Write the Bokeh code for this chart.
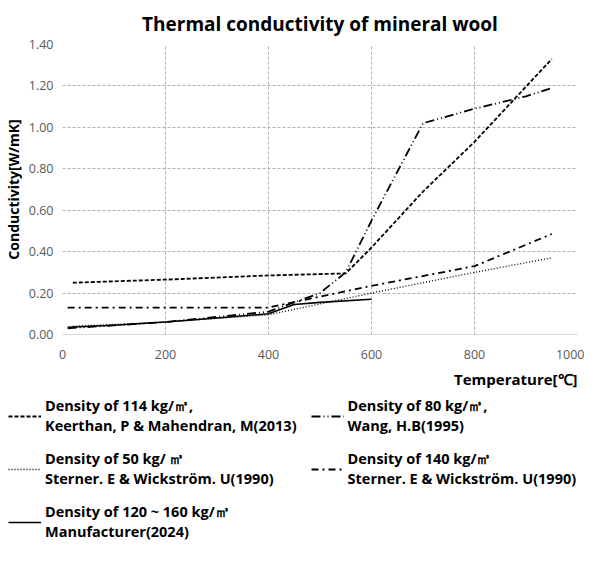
from bokeh.plotting import figure
from bokeh.layouts import column
from bokeh.models import Range1d, Legend, LegendItem, FixedTicker, NumeralTickFormatter, Title
from bokeh.embed import file_html
from bokeh.resources import INLINE

# Density of 114 kg/m3 (Keerthan & Mahendran 2013)
t_114 = [20, 200, 400, 550, 600, 700, 800, 950]
k_114 = [0.25, 0.265, 0.285, 0.295, 0.42, 0.69, 0.93, 1.33]
# Density of 80 kg/m3 (Wang 1995)
t_80 = [10, 200, 400, 500, 550, 600, 700, 800, 900, 950]
k_80 = [0.03, 0.06, 0.11, 0.20, 0.30, 0.55, 1.02, 1.09, 1.15, 1.19]
# Density of 50 kg/m3 (Sterner & Wickstrom 1990)
t_50 = [20, 200, 400, 600, 800, 950]
k_50 = [0.04, 0.06, 0.095, 0.20, 0.30, 0.37]
# Density of 140 kg/m3 (Sterner & Wickstrom 1990)
t_140 = [10, 400, 600, 800, 950]
k_140 = [0.13, 0.13, 0.235, 0.33, 0.485]
# Density of 120~160 kg/m3 (Manufacturer 2024)
t_mf = [10, 100, 200, 300, 400, 450, 500, 600]
k_mf = [0.035, 0.045, 0.06, 0.08, 0.10, 0.145, 0.155, 0.17]

x_ticks = [0, 200, 400, 600, 800, 1000]
y_ticks = [0.0, 0.2, 0.4, 0.6, 0.8, 1.0, 1.2, 1.4]

labels = [
    "Density of 114 kg/\u33a5,\nKeerthan, P & Mahendran, M(2013)",
    "Density of 80 kg/\u33a5,\nWang, H.B(1995)",
    "Density of 50 kg/ \u33a5\nSterner. E & Wickstr\u00f6m. U(1990)",
    "Density of 140 kg/\u33a5\nSterner. E & Wickstr\u00f6m. U(1990)",
    "Density of 120 ~ 160 kg/\u33a5\nManufacturer(2024)",
]

styles = [
    dict(line_width=1.8, line_dash="4 2"),
    dict(line_width=1.8, line_dash="9 3 1 3 1 3"),
    dict(line_width=1.3, line_dash="1 2"),
    dict(line_width=1.8, line_dash="7 4 2 4"),
    dict(line_width=1.6, line_dash="solid"),
]
series = [(t_114, k_114), (t_80, k_80), (t_50, k_50), (t_140, k_140), (t_mf, k_mf)]

FONT = "Open Sans"

p = figure(width=584, height=396, output_backend="svg", toolbar_location=None,
           x_range=Range1d(0, 1000), y_range=Range1d(0, 1.4),
           min_border_left=56, min_border_right=7, min_border_top=40,
           min_border_bottom=62)
p.frame_align = False

p.title.text = "Thermal conductivity of mineral wool"
p.title.align = "center"
p.title.text_font = FONT
p.title.text_font_size = "19px"
p.title.text_font_style = "bold"
p.title.text_color = "black"
p.title.standoff = 16

p.outline_line_color = None
p.background_fill_color = "white"

for (tx, ky), st in zip(series, styles):
    p.line(tx, ky, line_color="black", **st)

for ax in (p.xaxis[0], p.yaxis[0]):
    ax.major_tick_line_color = None
    ax.minor_tick_line_color = None
    ax.major_tick_out = 0
    ax.major_tick_in = 0
    ax.major_label_text_font = FONT
    ax.major_label_text_font_size = "12.5px"
    ax.major_label_text_color = "#595959"
    ax.axis_label_text_font = FONT
    ax.axis_label_text_font_style = "bold"
    ax.axis_label_text_color = "black"

p.xaxis.ticker = FixedTicker(ticks=x_ticks)
p.yaxis.ticker = FixedTicker(ticks=y_ticks)
p.yaxis.formatter = NumeralTickFormatter(format="0.00")
p.xaxis.axis_line_color = "#d9d9d9"
p.yaxis.axis_line_color = None
p.xaxis.major_label_standoff = 15
p.yaxis.major_label_standoff = 9
p.yaxis.axis_label = "Conductivity[W/mK]"
p.yaxis.axis_label_text_font_size = "14px"
p.yaxis.axis_label_standoff = 3

xtitle = Title(text="Temperature[\u2103]", align="right", text_font=FONT,
               text_font_size="15px", text_font_style="bold", text_color="black",
               standoff=10)
p.add_layout(xtitle, "below")

for g in (p.xgrid[0], p.ygrid[0]):
    g.grid_line_color = "#b0b0b0"
    g.grid_line_dash = "3 2"
    g.grid_line_width = 1

# legend panel below the chart (sample lines kept outside its visible range)
lf = figure(width=584, height=150, output_backend="svg", toolbar_location=None,
            min_border_left=8, min_border_right=0, min_border_top=0, min_border_bottom=0,
            x_axis_location=None, y_axis_location=None,
            x_range=Range1d(-2, -1), y_range=Range1d(-2, -1))
lf.frame_align = False
lf.grid.visible = False
lf.outline_line_color = None
sample = [lf.line(tx, ky, line_color="black", **st) for (tx, ky), st in zip(series, styles)]

order = [0, 2, 4, 1, 3]
legend = Legend(items=[LegendItem(label=labels[i], renderers=[sample[i]]) for i in order],
                ncols=2, location="top_left")
legend.label_text_font = FONT
legend.label_text_font_size = "14.5px"
legend.label_text_font_style = "bold"
legend.label_text_color = "black"
legend.glyph_width = 33
legend.label_standoff = 4
legend.border_line_color = None
legend.background_fill_alpha = 0
legend.margin = 0
legend.padding = 0
legend.spacing = 14
lf.add_layout(legend)

open("out.html", "w").write(file_html(column(p, lf, spacing=0), INLINE))
